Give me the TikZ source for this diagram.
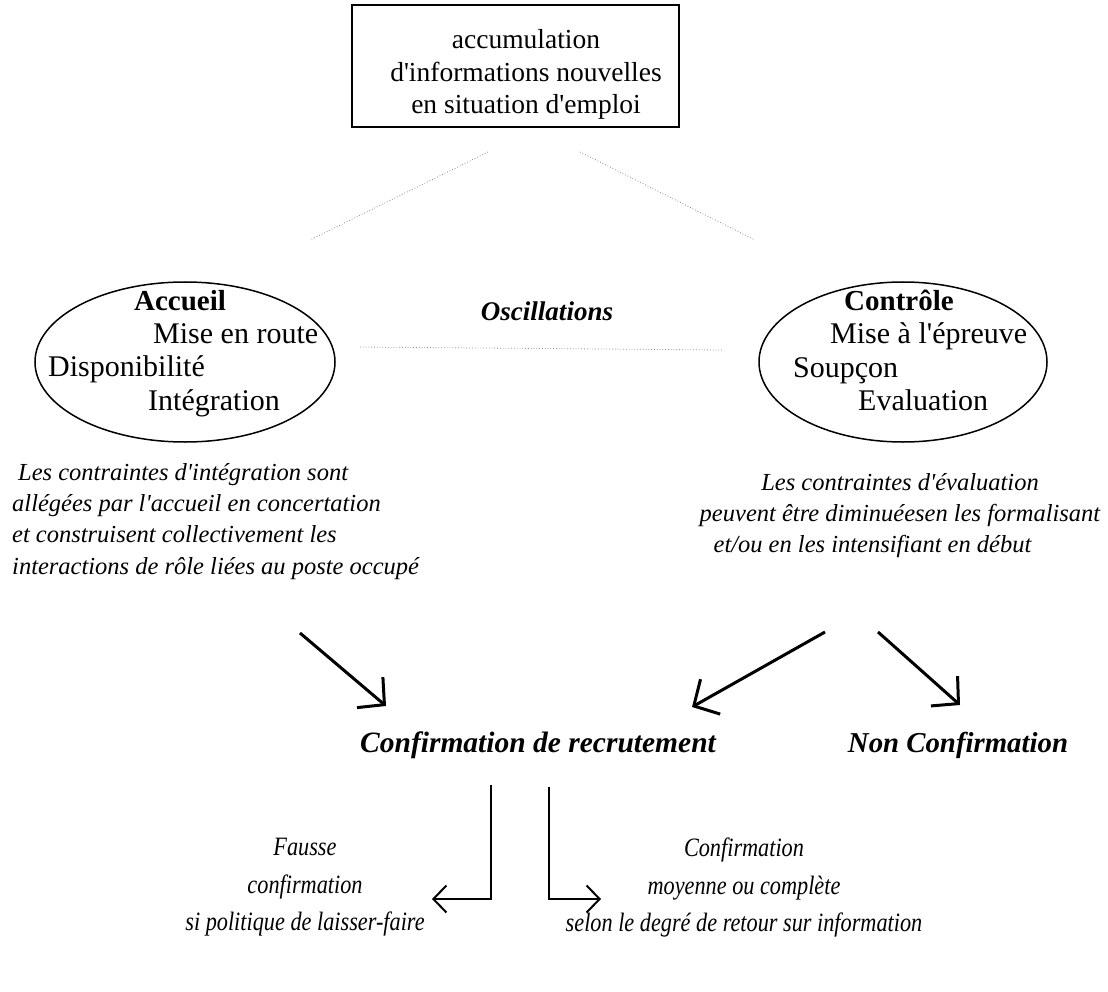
\documentclass[tikz,border=0pt]{standalone}
\usepackage{fontspec}
\setmainfont{Liberation Serif}[Ligatures=TeXOff]
\newfontfamily\lowfam{Liberation Serif}[Ligatures=TeXOff, FakeStretch=0.84]
\usetikzlibrary{arrows.meta,shapes.geometric}
\begin{document}
\begin{tikzpicture}[x=1pt,y=-1pt,
  txt/.style={inner sep=0pt, anchor=base},
  boxfont/.style={font=\fontsize{27.5}{32}\selectfont},
  ellfont/.style={font=\fontsize{30}{33}\selectfont},
  ellhead/.style={font=\fontsize{29}{33}\selectfont\bfseries},
  notefont/.style={font=\fontsize{24.5}{31.3}\selectfont\itshape},
  outfont/.style={font=\fontsize{29.5}{32}\selectfont\bfseries\itshape},
  oscfont/.style={font=\fontsize{27}{32}\selectfont\bfseries\itshape},
  lowfont/.style={font=\lowfam\fontsize{26.5}{37.5}\selectfont\itshape},
  faint/.style={draw=black!45, line width=0.8pt, dotted},
  bigarrow/.style={line width=3pt, -{Straight Barb[length=19pt, width=40pt, line width=3pt]}},
  elbow/.style={line width=2pt, -{Straight Barb[length=13pt, width=27pt, line width=2pt]}}
]
\useasboundingbox (0,0) rectangle (1108,992);

% top box
\node[draw, line width=1.3pt, minimum width=327pt, minimum height=122pt, inner sep=0pt] (top) at (515.5,66) {};
\node[txt, boxfont] (t1) at (526,49) {accumulation};
\node[txt, boxfont] (t2) at (526,82) {d'informations nouvelles};
\node[txt, boxfont] (t3) at (526,114) {en situation d'emploi};

% two poles
\node[draw, ellipse, line width=1.5pt, minimum width=300pt, minimum height=160pt, inner sep=0pt] (acc) at (185,362) {};
\node[draw, ellipse, line width=1.5pt, minimum width=288pt, minimum height=160pt, inner sep=0pt] (ctl) at (903,362) {};

\node[txt, ellhead] (a0) at (180,310) {Accueil};
\node[txt, ellfont, anchor=base west] (a1) at (153,343) {Mise en route};
\node[txt, ellfont, anchor=base west] (a2) at (48,376) {Disponibilité};
\node[txt, ellfont, anchor=base west] (a3) at (148,410) {Intégration};

\node[txt, ellhead] (c0) at (899,310) {Contrôle};
\node[txt, ellfont, anchor=base west] (c1) at (830,343) {Mise à l'épreuve};
\node[txt, ellfont, anchor=base west] (c2) at (793,377) {Soupçon};
\node[txt, ellfont, anchor=base west] (c3) at (858,410) {Evaluation};

% faint links from the box
\coordinate (tl) at (488,152);
\coordinate (tr) at (580,152);
\coordinate (al) at (310,240);
\coordinate (ar) at (755,240);
\draw[faint] (tl) -- (al);
\draw[faint] (tr) -- (ar);

% oscillations
\node[txt, oscfont] (osc) at (547,320) {Oscillations};
\coordinate (o1) at (360,347);
\coordinate (o2) at (722,350);
\draw[faint] (o1) -- (o2);

% notes under the poles
\node[anchor=north west, align=left, inner sep=0pt, notefont] (na) at (12,463)
  {\hspace*{6pt}Les contraintes d'intégration sont\\
   allégées par l'accueil en concertation\\
   et construisent collectivement les\\
   interactions de rôle liées au poste occupé};
\node[anchor=north, align=center, inner sep=0pt, notefont] (nc) at (900,473)
  {Les contraintes d'évaluation\\
   peuvent être diminuéesen les formalisant\\
   et/ou en les intensifiant en début\hspace*{55pt}};

% outcomes
\node[txt, outfont] (conf) at (538,752) {Confirmation de recrutement};
\node[txt, outfont, font=\fontsize{28.8}{32}\selectfont\bfseries\itshape] (non) at (958,752) {Non Confirmation};

\coordinate (s1) at (300,633);
\coordinate (e1) at (386,706);
\coordinate (s2) at (825,632);
\coordinate (e2) at (692,707);
\coordinate (s3) at (878,632);
\coordinate (e3) at (960,705);
\draw[bigarrow] (s1) -- (e1);
\draw[bigarrow] (s2) -- (e2);
\draw[bigarrow] (s3) -- (e3);

% split of the confirmation
\coordinate (d1) at (491,785);
\coordinate (f1) at (432,899);
\coordinate (d2) at (549,787);
\coordinate (f2) at (601,899);
\draw[elbow] (d1) |- (f1);
\draw[elbow] (d2) |- (f2);

\node[anchor=north, align=center, inner sep=0pt, lowfont] (fa) at (305,838)
  {Fausse\\ confirmation\\ si politique de laisser-faire};
\node[anchor=north, align=center, inner sep=0pt, lowfont] (co) at (744,838)
  {Confirmation\\ moyenne ou complète\\ selon le degré de retour sur information};
\end{tikzpicture}
\end{document}
